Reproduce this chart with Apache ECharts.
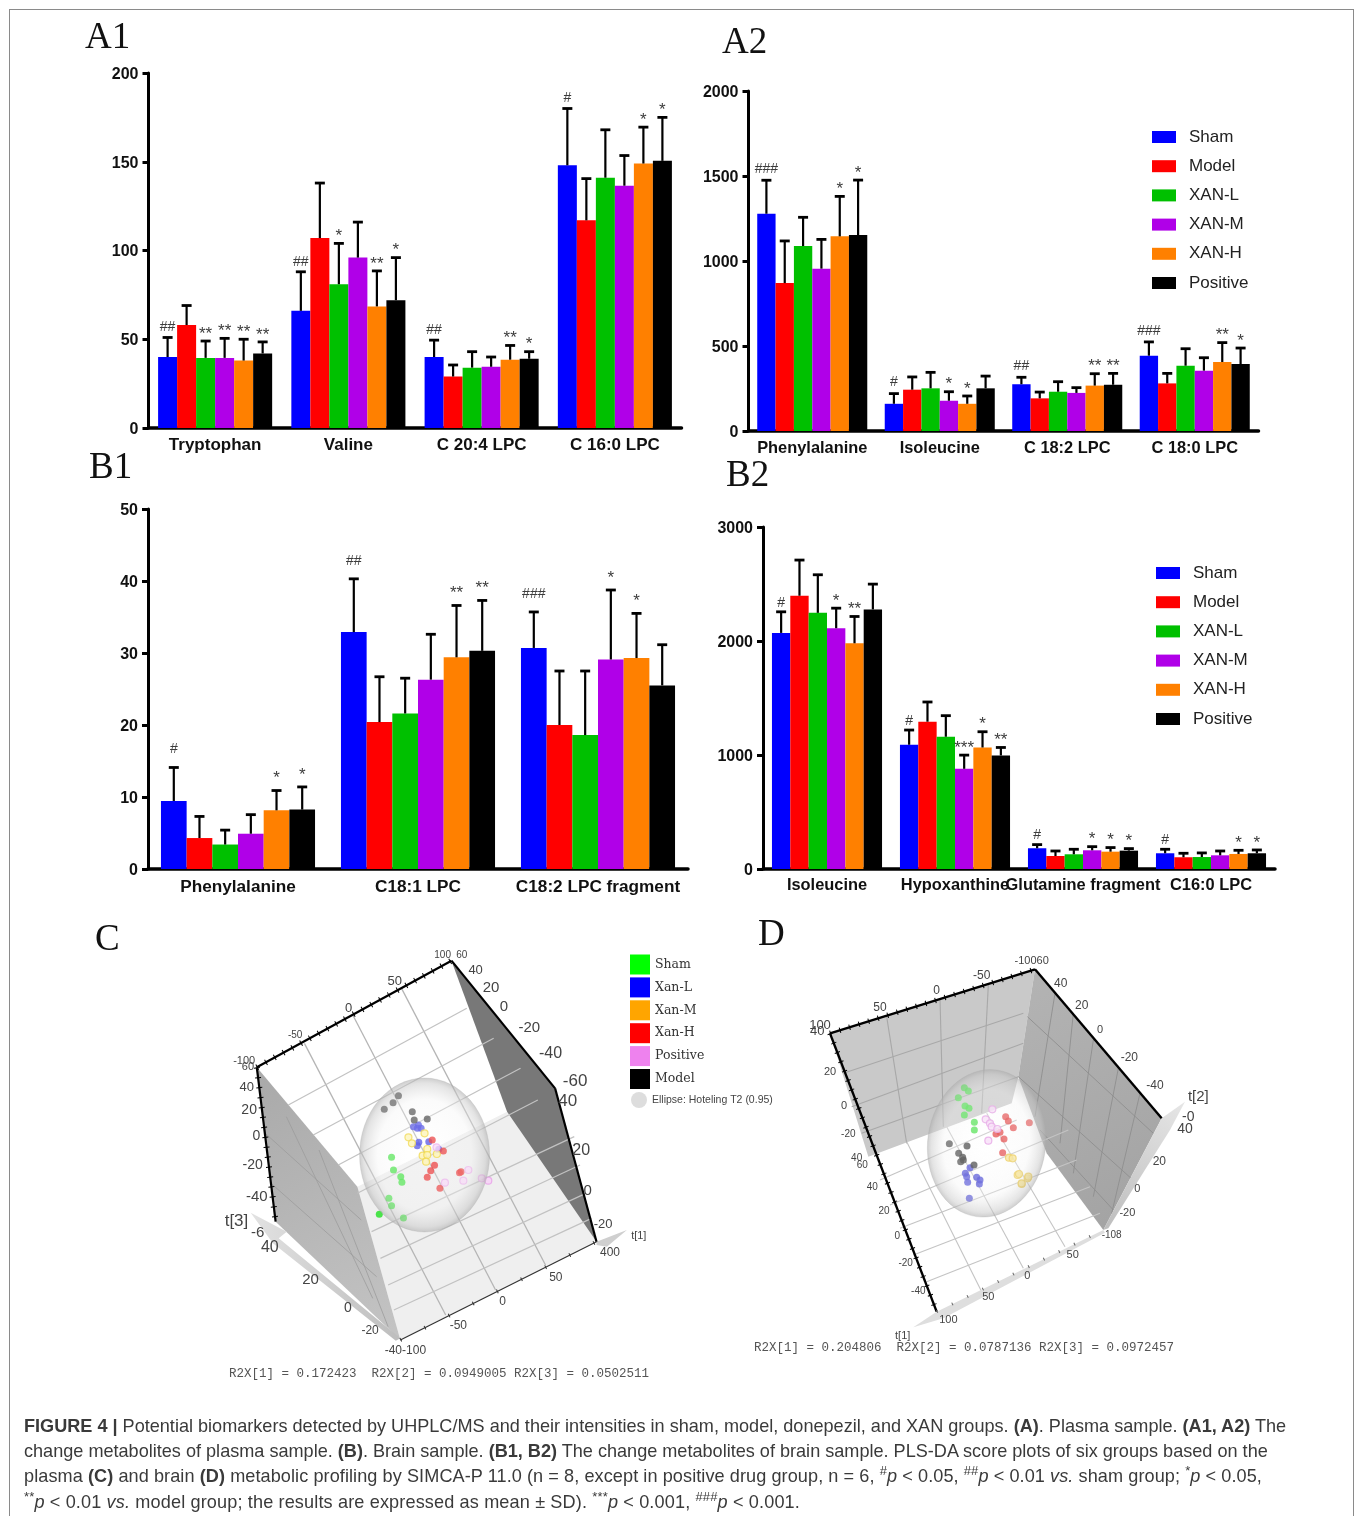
<!DOCTYPE html>
<html><head><meta charset="utf-8">
<script src="https://cdn.jsdelivr.net/npm/echarts@6/dist/echarts.min.js"></script>
<style>
html,body{margin:0;padding:0;background:#fff}
#frame{position:absolute;left:9px;top:9px;width:1345px;height:1520px;border:1px solid #8a8a8a;box-sizing:border-box}
#wrap{position:absolute;left:0;top:0;width:1357px;height:1516px;overflow:hidden}
#chart{position:absolute;left:0;top:0;width:1357px;height:1516px}
.cap{position:absolute;left:24px;white-space:nowrap;font:18.1px "Liberation Sans",sans-serif;color:#3a3a3a;line-height:25px}
sup{font-size:13px;line-height:0}
</style></head><body>
<div id="wrap">
<div id="frame"></div>
<div id="chart"></div>
<div class="cap" style="top:1414px"><b>FIGURE 4 |</b> Potential biomarkers detected by UHPLC/MS and their intensities in sham, model, donepezil, and XAN groups. <b>(A)</b>. Plasma sample. <b>(A1, A2)</b> The</div>
<div class="cap" style="top:1439px">change metabolites of plasma sample. <b>(B)</b>. Brain sample. <b>(B1, B2)</b> The change metabolites of brain sample. PLS-DA score plots of six groups based on the</div>
<div class="cap" style="top:1464px;letter-spacing:0.08px">plasma <b>(C)</b> and brain <b>(D)</b> metabolic profiling by SIMCA-P 11.0 (n = 8, except in positive drug group, n = 6, <sup>#</sup><i>p</i> &lt; 0.05, <sup>##</sup><i>p</i> &lt; 0.01 <i>vs.</i> sham group; <sup>*</sup><i>p</i> &lt; 0.05,</div>
<div class="cap" style="top:1490px;letter-spacing:0.14px"><sup>**</sup><i>p</i> &lt; 0.01 <i>vs.</i> model group; the results are expressed as mean ± SD). <sup>***</sup><i>p</i> &lt; 0.001, <sup>###</sup><i>p</i> &lt; 0.001.</div>
</div>
<script>
// ---------- bar chart data ----------
const groups = ['Sham','Model','XAN-L','XAN-M','XAN-H','Positive'];
const groupColors = ['#0000ff','#ff0000','#00c000','#b000e8','#ff8000','#000000'];

const A1_categories = ['Tryptophan','Valine','C 20:4 LPC','C 16:0 LPC'];
const A1_means = [[40,66,40,148],[58,107,29,117],[39.5,81,34,141],[39.5,96,34.5,136.5],[38,68.5,38.5,149],[42,72,39,150.5]];
const A1_upper = [[51,88,49.5,180],[69,138,35.5,140.5],[49,104,43,168],[50.5,116,40,153.5],[50,88.5,46.5,169.5],[48.5,96,43,175]];
const A1_marks = [['##','##','##','#'],['','','',''],['**','*','',''],['**','','',''],['**','**','**','*'],['**','*','*','*']];

const A2_categories = ['Phenylalanine','Isoleucine','C 18:2 LPC','C 18:0 LPC'];
const A2_means = [[1278,160,275,443],[870,243,192,280],[1088,251,231,384],[955,178,224,355],[1145,160,267,406],[1153,251,272,394]];
const A2_upper = [[1475,220,316,524],[1118,318,229,339],[1257,345,290,484],[1127,231,255,431],[1380,206,337,520],[1476,323,339,488]];
const A2_marks = [['###','#','##','###'],['','','',''],['','','',''],['','*','',''],['*','*','**','**'],['*','','**','*']];

const B1_categories = ['Phenylalanine','C18:1 LPC','C18:2 LPC fragment'];
const B1_means = [[9.45,32.9,30.7],[4.3,20.4,20],[3.4,21.6,18.6],[4.9,26.3,29.1],[8.15,29.4,29.3],[8.25,30.3,25.5]];
const B1_upper = [[14.1,40.3,35.7],[7.3,26.7,27.5],[5.4,26.5,27.5],[7.55,32.6,38.75],[10.9,36.6,35.5],[11.4,37.3,31.15]];
const B1_marks = [['#','##','###'],['','',''],['','',''],['','','*'],['*','**','*'],['*','**','']];

const B2_categories = ['Isoleucine','Hypoxanthine','Glutamine fragment','C16:0 LPC'];
const B2_means = [[2071,1090,182,138],[2397,1292,114,103],[2247,1160,129,105],[2112,879,164,120],[1980,1066,152,132],[2277,996,161,138]];
const B2_upper = [[2256,1219,214,173],[2710,1465,158,138],[2581,1345,173,141],[2288,999,196,158],[2215,1204,188,164],[2499,1066,179,167]];
const B2_marks = [['#','#','#','#'],['','','',''],['','','',''],['*','***','*',''],['**','*','*','*'],['','**','*','*']];

// ---------- score plot data (read in the projected plane of each 3D view) ----------
const C_Sham = [[499,682],[504,720],[523,740],[526,757],[492,805],[499,827],[467,853],[530,864]];
const C_XanL = [[569,585],[576,595],[566,595],[556,590],[570,637],[566,647],[596,635],[622,658]];
const C_XanM = [[543,622],[552,640],[585,610],[592,657],[580,677],[592,675],[589,695],[617,672]];
const C_XanH = [[605,630],[634,663],[611,706],[601,722],[592,742],[676,728],[625,775],[680,725]];
const C_Positive = [[699,720],[686,752],[638,758],[734,745],[751,752],[616,652]];
const C_Model = [[517,497],[503,518],[480,538],[553,545],[558,570],[592,567]];

const D_Sham = [[673,473],[685,483],[655,503],[675,528],[687,535],[673,555],[703,577],[703,600]];
const D_XanL = [[690,713],[676,730],[680,740],[683,757],[710,742],[720,750],[718,762],[688,805]];
const D_XanM = [[807,683],[818,685],[833,735],[863,745],[845,762],[865,740],[837,732],[845,760]];
const D_XanH = [[797,560],[805,573],[868,578],[820,593],[780,607],[768,612],[792,627],[788,668]];
const D_Positive = [[757,538],[737,568],[750,580],[755,590],[772,597],[745,632]];
const D_Model = [[628,641],[681,648],[656,670],[668,682],[662,695],[702,705],[670,690]];

const C_tickText = ['-100','60','-50','0','50','100','60','40','20','0','-20','-40','-60','40','20','0','-20','400','50','0','-50','-40-100','-20','0','20','40','-6','t[3]','t[1]','40','20','0','-20','-40'];
const D_tickText = ['100','40','50','0','-50','-10060','40','20','0','-20','-40','t[2]','-0','40','20','0','-20','-108','50','0','50','100','t[1]','20','0','-20','40','60','40','20','0','-20','-40'];
const R2X_C = 'R2X[1] = 0.172423  R2X[2] = 0.0949005 R2X[3] = 0.0502511';
const R2X_D = 'R2X[1] = 0.204806  R2X[2] = 0.0787136 R2X[3] = 0.0972457';

// ---------- layout ----------
const panels = [
 {cats:A1_categories,means:A1_means,upper:A1_upper,marks:A1_marks,left:148.5,top:73,width:533,height:355,max:200,interval:50,gap:'14.4%',up:10,upStar:7,font:17,lm:9},
 {cats:A2_categories,means:A2_means,upper:A2_upper,marks:A2_marks,left:748.5,top:91,width:510,height:340,max:2000,interval:500,gap:'13.7%',up:11,upStar:7,font:16.4,lm:9},
 {cats:B1_categories,means:B1_means,upper:B1_upper,marks:B1_marks,left:148,top:509,width:540,height:360,max:50,interval:10,gap:'14.4%',up:18,upStar:12,font:17.2,lm:10},
 {cats:B2_categories,means:B2_means,upper:B2_upper,marks:B2_marks,left:763,top:527,width:512,height:342,max:3000,interval:1000,gap:'14%',up:9,upStar:7,font:16.4,lm:8}
];
const grid=[],xAxis=[],yAxis=[],series=[];
const sans='"Liberation Sans",Arial,sans-serif';
panels.forEach((p,pi)=>{
  grid.push({left:p.left,top:p.top,width:p.width,height:p.height});
  xAxis.push({type:'category',gridIndex:pi,data:p.cats,axisLine:{lineStyle:{color:'#000',width:3.5}},axisTick:{show:false},
    axisLabel:{interval:0,hideOverlap:false,margin:p.lm,color:'#111',fontFamily:sans,fontWeight:'bold',fontSize:p.font}});
  yAxis.push({type:'value',gridIndex:pi,min:0,max:p.max,interval:p.interval,splitLine:{show:false},
    axisLine:{show:true,lineStyle:{color:'#000',width:3}},axisTick:{show:true,length:6,lineStyle:{color:'#000',width:3}},
    axisLabel:{margin:10,verticalAlign:'top',lineHeight:3,formatter:v=>String(v),color:'#111',fontFamily:sans,fontWeight:'bold',fontSize:16}});
  const frac=1-parseFloat(p.gap)/100;
  groups.forEach((g,gi)=>{
    series.push({type:'bar',name:g,xAxisIndex:pi,yAxisIndex:pi,data:p.means[gi],barGap:'0%',barCategoryGap:p.gap,
      itemStyle:{color:groupColors[gi]},silent:true,z:2});
    series.push({type:'custom',xAxisIndex:pi,yAxisIndex:pi,silent:true,z:3,
      data:p.means[gi].map((m,ci)=>[ci,m,p.upper[gi][ci]]),encode:{x:0,y:2},clip:false,
      renderItem:(params,api)=>{
        const ci=api.value(0),w=api.size([1,0])[0]*frac/6;
        const base=api.coord([ci,api.value(1)]),top=api.coord([ci,api.value(2)]);
        const x=base[0]+(gi-2.5)*w;
        const mark=p.marks[gi][ci];
        const kids=[
          {type:'line',shape:{x1:x,y1:base[1],x2:x,y2:top[1]},style:{stroke:'#000',lineWidth:2.2}},
          {type:'line',shape:{x1:x-5,y1:top[1],x2:x+5,y2:top[1]},style:{stroke:'#000',lineWidth:2.8}}];
        if(mark){
          const star=mark[0]==='*';
          kids.push({type:'text',x:x,y:top[1]-(star?p.upStar:p.up),style:{text:mark,fontFamily:sans,fontSize:star?17:14,fill:'#3c3c3c',align:'center',verticalAlign:'middle'}});
        }
        return {type:'group',children:kids};
      }});
  });
});

// projected-plane grids for the two 3D score plots (units: crop of each panel)
grid.push({left:200,top:930,width:600,height:460});
xAxis.push({type:'value',gridIndex:4,min:0,max:1563,show:false});
yAxis.push({type:'value',gridIndex:4,min:0,max:1380,inverse:true,show:false,splitLine:{show:false}});
grid.push({left:740,top:930,width:500,height:430});
xAxis.push({type:'value',gridIndex:5,min:0,max:1500,show:false});
yAxis.push({type:'value',gridIndex:5,min:0,max:1290,inverse:true,show:false,splitLine:{show:false}});

function poly(gi,pts,fill,z){
  series.push({type:'custom',xAxisIndex:gi,yAxisIndex:gi,silent:true,z:z||1,data:pts,clip:false,
    renderItem:(p,api)=>p.dataIndex?null:{type:'polygon',shape:{points:pts.map(q=>api.coord(q))},style:{fill:fill}}});
}
function segs(gi,list,stroke,w,z,dash){
  series.push({type:'custom',xAxisIndex:gi,yAxisIndex:gi,silent:true,z:z||2,data:list,clip:false,encode:{x:[0,2],y:[1,3]},
    renderItem:(p,api)=>{
      const a=api.coord([api.value(0),api.value(1)]),b=api.coord([api.value(2),api.value(3)]);
      return {type:'line',shape:{x1:a[0],y1:a[1],x2:b[0],y2:b[1]},style:{stroke:stroke,lineWidth:w,lineDash:dash||null}};
    }});
}
function texts(gi,list,pos,sizes,color){
  series.push({type:'custom',xAxisIndex:gi,yAxisIndex:gi,silent:true,z:6,data:pos,clip:false,
    renderItem:(p,api)=>{
      const a=api.coord([api.value(0),api.value(1)]);
      return {type:'text',x:a[0],y:a[1],style:{text:list[p.dataIndex],fontFamily:sans,fontSize:sizes[p.dataIndex],fill:color,align:'center',verticalAlign:'middle'}};
    }});
}
function scores(gi,name,data,fill,border){
  series.push({type:'scatter',name:name,xAxisIndex:gi,yAxisIndex:gi,data:data,symbolSize:7,silent:true,z:3,clip:false,
    itemStyle:{color:fill,borderColor:border||fill,borderWidth:border?1.2:0}});
}
function sphere(gi,name,c,w,h,rot){
  series.push({type:'scatter',name:name,xAxisIndex:gi,yAxisIndex:gi,data:[c],symbolSize:[w,h],symbolRotate:rot,silent:true,z:4,clip:false,
    itemStyle:{opacity:1,color:{type:'radial',x:0.5,y:0.5,r:0.5,colorStops:[
      {offset:0,color:'rgba(255,255,255,0.2)'},{offset:0.72,color:'rgba(244,244,244,0.38)'},{offset:0.93,color:'rgba(200,200,200,0.5)'},{offset:1,color:'rgba(170,170,170,0.6)'}]},
      borderColor:'rgba(170,170,170,0.4)',borderWidth:0.6}});
}

// ---- panel C ----
poly(4,[[148,412],[410,770],[800,545],[655,92]],'#ffffff',1);
poly(4,[[410,770],[800,545],[1033,935],[522,1230]],'#efefef',1);
poly(4,[[655,92],[925,475],[1033,935],[800,545]],'#787878',1);
poly(4,[[148,412],[410,770],[522,1230],[197,875]],{type:'linear',x:0,y:0,x2:1,y2:1,colorStops:[{offset:0,color:'#a9a9a9'},{offset:1,color:'#c4c4c4'}]},1);
segs(4,[[272,340,640,1155],[398,255,770,1080],[525,175,900,1005]],'#b5b5b5',1.3,2);
segs(4,[[230,525,695,235],[295,615,765,325],[360,705,835,415],[410,790,880,510],[447,905,975,620],[470,985,990,705],[490,1065,1005,790],[505,1140,1020,865]],'#c2c2c2',1.2,2);
segs(4,[[225,560,450,1105],[310,660,490,1190],[170,610,420,870],[185,760,460,1040]],'#9c9c9c',0.8,2);
poly(4,[[132,848],[226,905],[205,925],[522,1225],[510,1232],[190,940]],{type:'linear',x:0,y:0,x2:1,y2:0,colorStops:[{offset:0,color:'#e2e2e2'},{offset:1,color:'#bdbdbd'}]},2);
poly(4,[[1033,935],[1112,900],[1060,950],[1033,945]],'#cfcfcf',2);
segs(4,[[148,412,655,92],[148,412,197,875],[655,92,925,475],[925,475,1033,935]],'#000',2.2,5);
segs(4,[[148,412,655,92],[148,412,197,875]],'#000',6,5,[1,9]);
segs(4,[[522,1230,1033,935]],'#333',1.2,5);
segs(4,[[522,1230,1033,935]],'#333',4,5,[1,26]);
scores(4,'Sham',C_Sham,'#20e020');
scores(4,'Xan-L',C_XanL,'#3232e0');
scores(4,'Xan-M',C_XanM,'#fff2a0','#eed020');
scores(4,'Xan-H',C_XanH,'#e81818');
scores(4,'Positive',C_Positive,'#f8d0f8','#e8a0e8');
scores(4,'Model',C_Model,'#222222');
sphere(4,'Ellipse: Hoteling T2 (0.95)',[585,675],130,154,0);
texts(4,C_tickText,
 [[115,392],[125,410],[248,316],[387,235],[507,155],[632,76],[682,76],[718,120],[758,173],[792,230],[858,295],[913,370],[977,455],[958,515],[993,663],[1010,782],[1050,883],[1068,968],[927,1043],[788,1115],[673,1188],[535,1262],[443,1202],[385,1133],[288,1050],[182,952],[150,910],[95,875],[1143,918],[122,472],[128,540],[147,618],[137,705],[148,800]],
 [11,11,10,13,13,10,10,13,15,15,15,16,17,17,16,15,13,12,12,12,12,12,12,14,15,16,15,17,11,13,14,14,14,15],'#444');

// ---- panel D ----
poly(5,[[270,310],[885,118],[835,440],[815,520],[385,680]],'#c9c9c9',1);
poly(5,[[885,118],[1265,565],[1090,900],[920,670],[835,440]],{type:'linear',x:0,y:0,x2:1,y2:1,colorStops:[{offset:0,color:'#b4b4b4'},{offset:1,color:'#a2a2a2'}]},1);
segs(5,[[440,260,500,640],[600,205,610,590],[745,165,725,550]],'#a8a8a8',1.1,2);
segs(5,[[310,430,850,250],[335,530,850,340],[365,610,835,440]],'#a8a8a8',1.1,2);
segs(5,[[945,190,885,560],[1000,250,960,640],[1060,330,1000,730],[1135,415,1060,800],[1200,490,1115,850]],'#8e8e8e',0.9,2);
segs(5,[[862,260,1240,610],[835,440,1190,760],[900,600,1120,840]],'#8e8e8e',0.9,2);
segs(5,[[500,635,725,1085],[620,590,850,1015],[740,550,975,950]],'#c4c4c4',1.1,2);
segs(5,[[420,750,830,570],[450,825,985,600],[480,895,1010,690],[520,975,1050,770],[560,1055,1080,850]],'#c4c4c4',1.1,2);
poly(5,[[1090,900],[1265,565],[1335,515],[1290,600],[1105,895]],{type:'linear',x:0,y:1,x2:1,y2:0,colorStops:[{offset:0,color:'#bdbdbd'},{offset:1,color:'#e6e6e6'}]},2);
poly(5,[[590,1145],[1090,900],[1095,908],[610,1165],[520,1192]],'#dedede',2);
segs(5,[[270,310,885,118],[885,118,1265,565],[270,310,590,1145]],'#000',2.4,5);
segs(5,[[270,310,885,118],[270,310,590,1145]],'#000',5.5,5,[1,9]);
segs(5,[[590,1145,1090,900]],'#666',3,5,[1,16]);
scores(5,'Sham',D_Sham,'#30dd30');
scores(5,'Xan-L',D_XanL,'#2a2ad0');
scores(5,'Xan-M',D_XanM,'#f8e080','#e8c030');
scores(5,'Xan-H',D_XanH,'#e02a2a');
scores(5,'Positive',D_Positive,'#f8d8f8','#e090e0');
scores(5,'Model',D_Model,'#222222');
sphere(5,'Ellipse: Hoteling T2 (0.95)',[740,640],118,148,-8);
texts(5,D_tickText,
 [[240,285],[232,303],[420,232],[590,182],[725,137],[875,93],[962,160],[1025,228],[1080,300],[1168,382],[1245,467],[1375,500],[1345,560],[1335,597],[1258,695],[1192,778],[1162,848],[1115,915],[998,975],[862,1037],[745,1100],[625,1170],[488,1218],[270,427],[312,527],[325,612],[350,685],[367,707],[397,773],[432,845],[472,918],[497,1000],[535,1083]],
 [13,13,12,12,12,11,12,12,11,12,12,15,14,14,12,11,11,10,11,11,11,11,11,11,11,10,10,10,10,10,10,10,10],'#444');

const letter=(t,l,tp)=>({text:t,left:l,top:tp,padding:0,textStyle:{fontFamily:'"Liberation Serif",serif',fontWeight:'normal',fontSize:37,color:'#111'}});
const mono=(t,l,tp)=>({text:t,left:l,top:tp,padding:0,textStyle:{fontFamily:'"Liberation Mono",monospace',fontWeight:'normal',fontSize:12.5,color:'#555'}});
const barLegend=(l,t)=>({left:l,top:t,padding:0,orient:'vertical',icon:'rect',itemWidth:24,itemHeight:12,itemGap:12.2,selectedMode:false,data:groups,
  textStyle:{fontFamily:sans,fontSize:17,lineHeight:17,color:'#222',padding:[0,0,0,8]}});
const swatch=[['Sham','#00ff00'],['Xan-L','#0000ff'],['Xan-M','#ffa500'],['Xan-H','#ff0000'],['Positive','#ee82ee'],['Model','#000000']];

const chart=echarts.init(document.getElementById('chart'),null,{renderer:'canvas'});
chart.setOption({
  animation:false,backgroundColor:'transparent',
  title:[letter('A1',85,20),letter('A2',722,25),letter('B1',89,450),letter('B2',726,458),letter('C',95,922),letter('D',758,917),
         mono(R2X_C,229,1367),mono(R2X_D,754,1341)],
  legend:[barLegend(1152,128.5),barLegend(1156,564.5),
    {left:630,top:954.5,padding:0,orient:'vertical',icon:'rect',itemWidth:20,itemHeight:20,itemGap:2.9,selectedMode:false,
     data:swatch.map(s=>({name:s[0],itemStyle:{color:s[1],opacity:1,borderWidth:0}})),
     textStyle:{fontFamily:'"DejaVu Serif",serif',fontSize:12.5,color:'#333'}},
    {left:631,top:1092,padding:0,orient:'vertical',icon:'circle',itemWidth:16,itemHeight:16,selectedMode:false,
     data:[{name:'Ellipse: Hoteling T2 (0.95)',itemStyle:{color:'#dddddd',opacity:1,borderWidth:0}}],
     textStyle:{fontFamily:sans,fontSize:10.5,color:'#444'}}],
  grid,xAxis,yAxis,series
});
</script>
</body></html>
